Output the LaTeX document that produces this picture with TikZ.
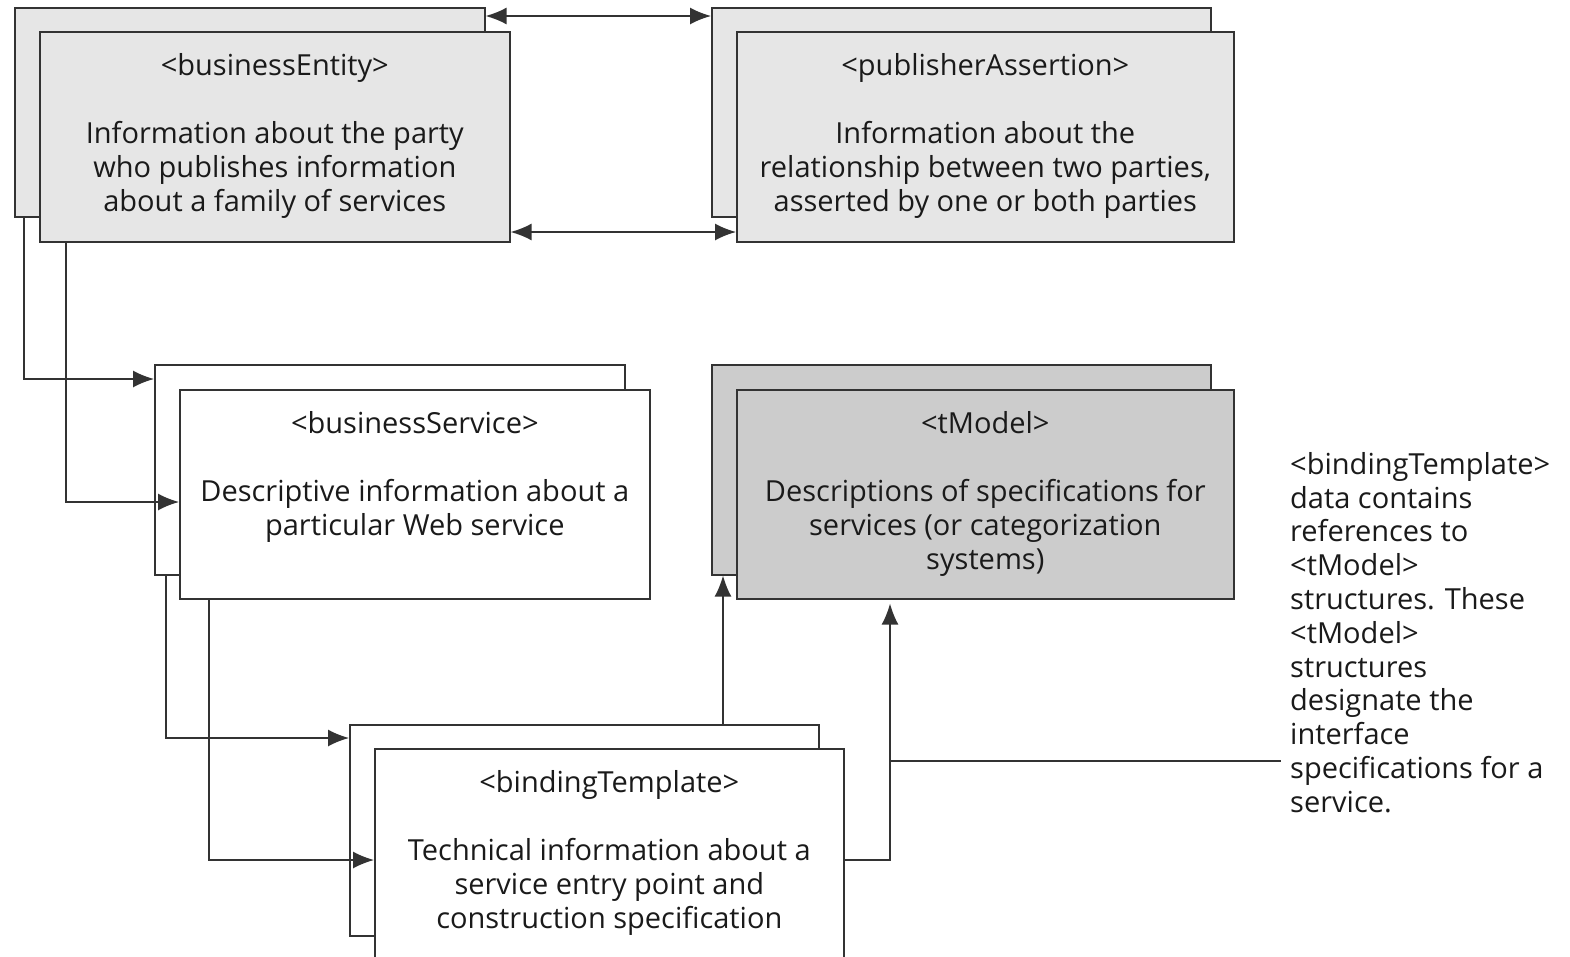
\documentclass[tikz,border=0pt]{standalone}
\usepackage{fontspec}
\setmainfont{Open Sans}
\usetikzlibrary{arrows.meta,calc}
\definecolor{lc}{HTML}{333333}
\definecolor{tc}{HTML}{1A1A1A}
\definecolor{gA}{HTML}{E6E6E6}
\definecolor{gB}{HTML}{CCCCCC}
\tikzset{
  bx/.style={draw=lc, line width=1.6pt, rectangle, anchor=north west, inner sep=0pt},
  txt/.style={text=tc, align=center, anchor=north, inner sep=0pt, font=\fontsize{29}{34}\selectfont},
  note/.style={text=tc, align=left, anchor=north west, inner sep=0pt, font=\fontsize{29}{33.8}\selectfont},
  conn/.style={draw=lc, line width=1.5pt},
  arr/.style={conn, -{Latex[length=21pt,width=17pt]}},
  darr/.style={conn, {Latex[length=21pt,width=17pt]}-{Latex[length=21pt,width=17pt]}}
}
\begin{document}
\begin{tikzpicture}[x=1pt,y=-1pt]
\path[use as bounding box, clip] (0,0) rectangle (1570,956);
\fill[white] (0,0) rectangle (1570,956);
% back boxes
\node[bx, fill=gA, minimum width=470pt, minimum height=209pt] (beB) at (14,7) {};
\node[bx, fill=gA, minimum width=499pt, minimum height=209pt] (paB) at (711,7) {};
\node[bx, fill=white, minimum width=470pt, minimum height=210pt] (bsB) at (154,364) {};
\node[bx, fill=gB, minimum width=499pt, minimum height=210pt] (tmB) at (711,364) {};
\node[bx, fill=white, minimum width=469pt, minimum height=211pt] (btB) at (349,724) {};
% front boxes
\node[bx, fill=gA, minimum width=470pt, minimum height=210pt] (beF) at (39,31) {};
\node[bx, fill=gA, minimum width=497pt, minimum height=210pt] (paF) at (736,31) {};
\node[bx, fill=white, minimum width=470pt, minimum height=209pt] (bsF) at (179,389) {};
\node[bx, fill=gB, minimum width=497pt, minimum height=209pt] (tmF) at (736,389) {};
\node[bx, fill=white, minimum width=469pt, minimum height=240pt] (btF) at (374,748) {};
% texts
\node[txt] (beT) at ([yshift=-22pt]beF.north) {<businessEntity>\\[34pt]Information about the party\\who publishes information\\about a family of services};
\node[txt] (paT) at ([yshift=-22pt]paF.north) {<publisherAssertion>\\[34pt]Information about the\\relationship between two parties,\\asserted by one or both parties};
\node[txt] (bsT) at ([yshift=-22pt]bsF.north) {<businessService>\\[34pt]Descriptive information about a\\particular Web service};
\node[txt] (tmT) at ([yshift=-22pt]tmF.north) {<tModel>\\[34pt]Descriptions of specifications for\\services (or categorization\\systems)};
\node[txt] (btT) at ([yshift=-22pt]btF.north) {<bindingTemplate>\\[34pt]Technical information about a\\service entry point and\\construction specification};
\node[note] (noteT) at (1290,452) {<bindingTemplate>\\data contains\\references to\\<tModel>\\structures. These\\<tModel>\\structures\\designate the\\interface\\specifications for a\\service.};
% connectors
\draw[darr] ([yshift=-9pt]beB.north east) -- ([yshift=-9pt]paB.north west);
\draw[darr] ([yshift=-201pt]beF.north east) -- ([yshift=-201pt]paF.north west);
\draw[arr] ([xshift=10pt]beB.south west) |- ([yshift=-15pt]bsB.north west);
\draw[arr] ([xshift=27pt]beF.south west) |- ([yshift=-113pt]bsF.north west);
\draw[arr] ([xshift=12pt]bsB.south west) |- ([yshift=-14pt]btB.north west);
\draw[arr] ([xshift=30pt]bsF.south west) |- ([yshift=-112pt]btF.north west);
\draw[arr] ([xshift=374pt]btB.north west) -- ([xshift=12pt]tmB.south west);
\draw[arr] ([yshift=-112pt]btF.north east) -| ([xshift=154pt,yshift=-4pt]tmF.south west);
\coordinate (junc) at (890,761);
\coordinate (noteEnd) at (1281,761);
\draw[conn] (junc) -- (noteEnd);
\end{tikzpicture}
\end{document}
